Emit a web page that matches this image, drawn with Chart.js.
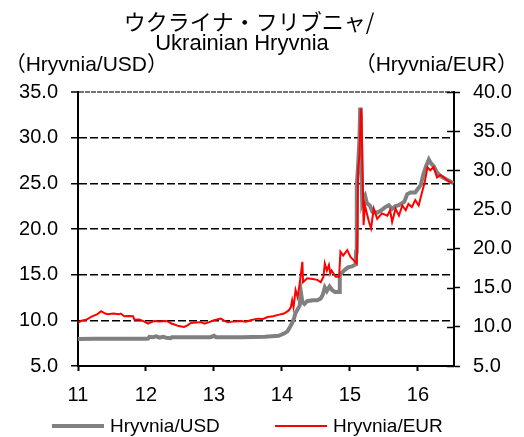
<!DOCTYPE html>
<html>
<head>
<meta charset="utf-8">
<script src="https://cdn.jsdelivr.net/npm/chart.js@4.4.1/dist/chart.umd.min.js"></script>
<style>
  html, body { margin: 0; padding: 0; background: #fff; }
  #wrap { width: 524px; height: 437px; }
</style>
</head>
<body>
<div id="wrap"><canvas id="hryvniaChart"></canvas></div>
<script>
// Titles and units
const titleLines = ['ウクライナ・フリブニャ/', 'Ukrainian Hryvnia'];
const leftUnit = '（Hryvnia/USD）';
const rightUnit = '（Hryvnia/EUR）';

// Hryvnia per USD (grey, left axis), x in decimal years
const usdYears = [2011.00, 2011.25, 2011.50, 2011.75, 2012.00, 2012.03, 2012.05, 2012.10, 2012.15, 2012.20,
  2012.25, 2012.30, 2012.36, 2012.38, 2012.60, 2012.95, 2013.00, 2013.03, 2013.40, 2013.75,
  2013.85, 2013.95, 2014.03, 2014.08, 2014.12, 2014.15, 2014.18, 2014.20, 2014.23, 2014.26,
  2014.28, 2014.30, 2014.33, 2014.37, 2014.45, 2014.52, 2014.57, 2014.60, 2014.63, 2014.66,
  2014.70, 2014.74, 2014.78, 2014.84, 2014.85, 2014.88, 2014.92, 2014.97, 2015.03, 2015.08,
  2015.09, 2015.10, 2015.12, 2015.14, 2015.15, 2015.16, 2015.17, 2015.18, 2015.20, 2015.22,
  2015.25, 2015.29, 2015.33, 2015.40, 2015.45, 2015.52, 2015.57, 2015.62, 2015.67, 2015.72,
  2015.80, 2015.84, 2015.89, 2015.96, 2016.00, 2016.04, 2016.08, 2016.12, 2016.16, 2016.19,
  2016.23, 2016.28, 2016.33, 2016.40, 2016.45, 2016.52];
const usdValues = [7.95, 7.97, 7.98, 7.98, 7.99, 8.0, 8.2, 8.15, 8.25, 8.1,
  8.2, 8.1, 8.05, 8.15, 8.15, 8.15, 8.3, 8.15, 8.15, 8.2,
  8.25, 8.3, 8.55, 8.8, 9.3, 9.7, 10.3, 10.8, 11.2, 11.6,
  13.0, 12.0, 11.8, 12.1, 12.2, 12.2, 12.4, 12.8, 13.6, 13.2,
  13.7, 13.3, 13.1, 13.1, 14.9, 15.2, 15.5, 15.8, 15.9, 16.1,
  17.5, 24.8, 27.0, 30.0, 33.3, 31.0, 26.6, 23.0, 23.5, 23.7,
  22.8, 22.6, 21.9, 21.8, 22.0, 22.4, 22.6, 22.2, 22.5, 22.6,
  23.0, 23.8, 24.0, 24.0, 24.4, 24.8, 26.0, 26.9, 27.6, 27.2,
  26.9, 26.2, 25.8, 25.5, 25.3, 25.0];

// Hryvnia per EUR (red, right axis)
const eurYears = [2011.00, 2011.05, 2011.12, 2011.20, 2011.28, 2011.34, 2011.40, 2011.44, 2011.52, 2011.60,
  2011.63, 2011.68, 2011.75, 2011.81, 2011.83, 2011.90, 2011.97, 2012.03, 2012.08, 2012.12,
  2012.20, 2012.28, 2012.32, 2012.38, 2012.42, 2012.48, 2012.56, 2012.61, 2012.66, 2012.73,
  2012.81, 2012.86, 2012.93, 2013.00, 2013.10, 2013.15, 2013.20, 2013.30, 2013.40, 2013.47,
  2013.54, 2013.64, 2013.72, 2013.79, 2013.87, 2013.93, 2014.03, 2014.10, 2014.13, 2014.15,
  2014.17, 2014.20, 2014.23, 2014.26, 2014.30, 2014.31, 2014.37, 2014.45, 2014.52, 2014.57,
  2014.61, 2014.63, 2014.66, 2014.69, 2014.71, 2014.73, 2014.79, 2014.84, 2014.86, 2014.90,
  2014.96, 2015.01, 2015.08, 2015.10, 2015.11, 2015.12, 2015.14, 2015.16, 2015.17, 2015.19,
  2015.20, 2015.22, 2015.28, 2015.31, 2015.35, 2015.40, 2015.47, 2015.55, 2015.59, 2015.62,
  2015.67, 2015.72, 2015.77, 2015.82, 2015.86, 2015.91, 2015.96, 2016.01, 2016.06, 2016.10,
  2016.14, 2016.18, 2016.23, 2016.28, 2016.33, 2016.38, 2016.43, 2016.50];
const eurValues = [10.5, 10.8, 10.9, 11.3, 11.6, 12.0, 11.7, 11.6, 11.7, 11.6,
  11.7, 11.35, 11.4, 11.35, 10.9, 10.95, 10.7, 10.4, 10.6, 10.75,
  10.7, 10.75, 10.7, 10.4, 10.3, 10.1, 9.98, 10.2, 10.5, 10.55,
  10.6, 10.4, 10.6, 10.85, 11.05, 10.8, 10.6, 10.7, 10.75, 10.65,
  10.85, 11.05, 11.0, 11.25, 11.35, 11.5, 11.7, 12.1, 12.5, 13.4,
  12.5, 14.7, 13.8, 15.5, 18.3, 15.7, 16.2, 16.1, 16.0, 15.7,
  16.4, 18.1, 17.2, 17.9, 16.8, 17.2, 16.4, 16.4, 19.6, 19.1,
  19.8, 18.9, 18.3, 18.1, 22.3, 30.2, 31.9, 37.9, 37.0, 27.7,
  23.0, 25.5, 23.4, 22.6, 25.1, 23.8, 24.5, 24.2, 24.9, 23.4,
  25.1, 24.2, 25.5, 24.9, 25.7, 25.3, 26.2, 25.5, 27.2, 28.5,
  30.4, 30.0, 30.4, 29.1, 29.4, 29.1, 28.7, 28.4];

const xMin = 2011, xMax = 2016.53;
const leftMin = 5, leftMax = 35;
const rightMin = 5, rightMax = 40;

const toPoints = (xs, ys) => xs.map((x, i) => ({x: x, y: ys[i]}));

// Titles, unit labels, legend and the inner half of the right-axis ticks
const decor = {
  id: 'decor',
  afterDraw(chart) {
    const ctx = chart.ctx;
    ctx.save();
    ctx.fillStyle = '#000';
    ctx.textBaseline = 'alphabetic';

    ctx.textAlign = 'center';
    ctx.font = '22px "Noto Sans CJK JP"';
    ctx.fillText(titleLines[0], 249, 30);
    ctx.font = '22px "Liberation Sans"';
    ctx.fillText(titleLines[1], 242, 50);

    ctx.font = '21px "Liberation Sans", "Noto Sans CJK JP"';
    ctx.textAlign = 'right';
    ctx.fillText(leftUnit, 168, 71);
    ctx.fillText(rightUnit, 518, 71);

    // right axis ticks also reach into the plot
    const yr = chart.scales.yRight;
    ctx.strokeStyle = '#000';
    ctx.lineWidth = 1.5;
    yr.ticks.forEach(t => {
      const y = Math.round(yr.getPixelForValue(t.value)) + 0.5;
      ctx.beginPath();
      ctx.moveTo(yr.left - 7, y);
      ctx.lineTo(yr.left, y);
      ctx.stroke();
    });

    // legend
    const items = [
      {ds: chart.data.datasets[1], x: 52},
      {ds: chart.data.datasets[0], x: 275}
    ];
    ctx.font = '19px "Liberation Sans"';
    ctx.textAlign = 'left';
    items.forEach(it => {
      ctx.strokeStyle = it.ds.borderColor;
      ctx.lineWidth = it.ds.borderWidth;
      ctx.beginPath();
      ctx.moveTo(it.x, 426);
      ctx.lineTo(it.x + 52, 426);
      ctx.stroke();
      ctx.fillText(it.ds.label, it.x + 58, 432);
    });
    ctx.restore();
  }
};

document.addEventListener('DOMContentLoaded', function() {
  const ctx = document.getElementById('hryvniaChart').getContext('2d');
  new Chart(ctx, {
    type: 'line',
    data: {
      datasets: [
        {
          label: 'Hryvnia/EUR',
          data: toPoints(eurYears, eurValues),
          yAxisID: 'yRight',
          borderColor: '#ff0000',
          borderWidth: 2,
          pointRadius: 0,
          tension: 0,
          order: 0
        },
        {
          label: 'Hryvnia/USD',
          data: toPoints(usdYears, usdValues),
          yAxisID: 'yLeft',
          borderColor: '#808080',
          borderWidth: 4,
          pointRadius: 0,
          tension: 0,
          order: 1
        }
      ]
    },
    options: {
      responsive: true,
      maintainAspectRatio: false,
      animation: false,
      layout: { padding: { top: 92, left: 0, right: 0, bottom: 0 } },
      plugins: {
        legend: { display: false },
        title: { display: false },
        tooltip: { enabled: false }
      },
      scales: {
        x: {
          type: 'linear',
          position: 'bottom',
          min: xMin,
          max: xMax,
          afterFit: s => { s.height = 71; },
          ticks: {
            stepSize: 1,
            includeBounds: false,
            padding: 12,
            color: '#000',
            font: { family: 'Liberation Sans', size: 20 },
            callback: v => String(Math.round(v - 2000))
          },
          grid: {
            drawOnChartArea: false,
            tickLength: 5,
            tickColor: '#000',
            tickWidth: 2
          },
          border: { color: '#000', width: 2 }
        },
        yLeft: {
          type: 'linear',
          position: 'left',
          min: leftMin,
          max: leftMax,
          afterFit: s => { s.width = 78; },
          ticks: {
            stepSize: 5,
            padding: 13,
            color: '#000',
            font: { family: 'Liberation Sans', size: 20 },
            callback: v => v.toFixed(1)
          },
          grid: {
            color: c => c.tick && c.tick.value === leftMax ? '#747474' : (c.tick && c.tick.value === leftMin ? 'rgba(0,0,0,0)' : '#000'),
            lineWidth: c => c.tick && c.tick.value === leftMax ? 2 : 1.5,
            tickLength: 7,
            tickColor: '#000',
            tickWidth: 1.5,
            tickBorderDash: []
          },
          border: {
            color: '#000',
            width: 2,
            dash: c => c.tick && c.tick.value === leftMax ? [5, 1] : [8, 3]
          }
        },
        yRight: {
          type: 'linear',
          position: 'right',
          min: rightMin,
          max: rightMax,
          afterFit: s => { s.width = 70; },
          ticks: {
            stepSize: 5,
            padding: 13,
            color: '#000',
            font: { family: 'Liberation Sans', size: 20 },
            callback: v => v.toFixed(1)
          },
          grid: {
            drawOnChartArea: false,
            tickLength: 6,
            tickColor: '#000',
            tickWidth: 1.5
          },
          border: { color: '#000', width: 2 }
        }
      }
    },
    plugins: [decor]
  });
});
</script>
</body>
</html>
